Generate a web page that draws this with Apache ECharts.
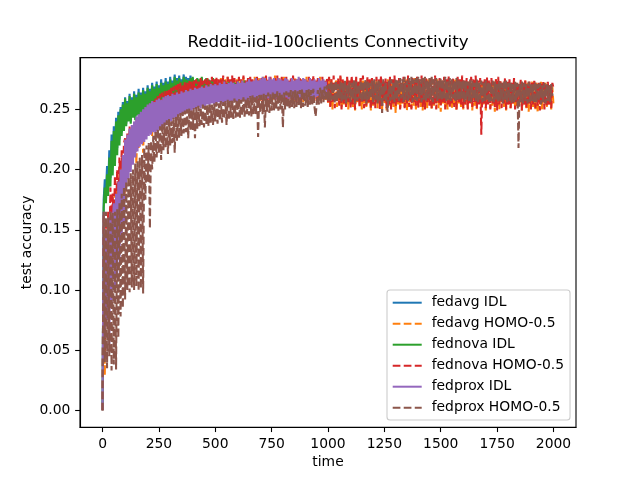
<!DOCTYPE html>
<html>
<head>
<meta charset="utf-8">
<title>Reddit-iid-100clients Connectivity</title>
<script src="https://cdn.jsdelivr.net/npm/echarts@6/dist/echarts.min.js"></script>
<style>
    html, body { margin: 0; padding: 0; background: #fff; }
    #chart { width: 640px; height: 480px; }
</style>
</head>
<body>
<div id="chart"></div>
<script>
// test accuracy, stored x1000, one value every 5 time units
var timeStep = 5;
var accScale = 1000;

var fedavgIdl = [
    0, 175, 192, 180, 203, 186, 216, 193, 229, 202, 236, 210, 243, 218, 248, 225, 252, 231, 256, 235,
    260, 238, 257, 242, 263, 240, 260, 245, 265, 243, 262, 247, 267, 246, 264, 249, 268, 248, 265, 251,
    270, 252, 267, 255, 272, 254, 269, 257, 273, 256, 270, 259, 275, 258, 272, 261, 276, 260, 273, 262,
    277, 263, 274, 265, 279, 264, 276, 266, 278, 265, 275, 267, 279, 266, 277, 268, 276, 265, 278, 267,
    276, 267, 274, 266, 275, 268, 274, 265, 276, 267, 273, 266, 275, 265, 274, 267, 273, 266, 275, 266,
    273, 266, 271, 265, 272, 267, 270, 264, 273, 266, 271, 265, 272, 264, 270, 266, 273, 265, 271, 267,
    272, 265, 270, 266, 273, 264, 271, 267, 272, 265, 270, 266, 273, 264, 271, 265, 272, 266, 270, 264,
    271, 266, 273, 265, 270, 264, 272, 266, 271, 265, 273, 264, 270, 266, 272, 265, 271, 264, 273, 266,
    270, 265, 272, 264, 271, 266, 273, 265, 270, 264, 272, 266, 271, 265, 273, 264, 270, 266, 272, 265,
    271, 264, 273, 266, 270, 265, 272, 264, 271, 266, 273, 265, 270, 264, 272, 266, 271, 265, 270, 264
];
var fedavgHomo = [
    0, 160, 29, 150, 95, 162, 85, 158, 110, 170, 125, 180, 135, 188, 150, 196, 160, 205, 172, 212,
    180, 220, 192, 226, 200, 231, 206, 235, 212, 238, 205, 241, 218, 243, 222, 246, 214, 248, 226, 250,
    229, 252, 232, 254, 228, 256, 236, 257, 238, 259, 240, 260, 242, 262, 243, 261, 245, 263, 246, 264,
    247, 265, 248, 266, 249, 265, 250, 267, 251, 268, 250, 269, 252, 268, 253, 270, 252, 269, 254, 271,
    255, 270, 254, 271, 256, 272, 255, 271, 257, 273, 256, 272, 257, 274, 256, 273, 258, 272, 257, 274,
    258, 275, 257, 273, 259, 276, 258, 274, 256, 275, 259, 277, 257, 274, 258, 276, 259, 273, 257, 275,
    259, 276, 258, 274, 260, 277, 257, 275, 259, 273, 258, 276, 260, 274, 257, 277, 259, 275, 258, 276,
    257, 274, 259, 277, 258, 275, 260, 273, 257, 276, 259, 274, 258, 278, 260, 275, 257, 276, 259, 274,
    258, 277, 256, 275, 259, 273, 257, 276, 258, 274, 256, 277, 259, 275, 257, 273, 258, 276, 256, 274,
    259, 277, 257, 275, 258, 273, 256, 276, 259, 274, 257, 275, 258, 277, 256, 274, 259, 273, 257, 275,
    255, 274, 253, 276, 250, 272, 256, 275, 252, 273, 255, 277, 251, 274, 254, 272, 256, 275, 250, 273,
    255, 276, 252, 273, 249, 275, 256, 272, 253, 276, 250, 274, 255, 271, 252, 275, 254, 273, 249, 276,
    253, 272, 256, 275, 251, 273, 254, 276, 250, 274, 255, 272, 249, 275, 253, 273, 256, 271, 252, 274,
    247, 273, 254, 276, 250, 272, 255, 274, 252, 275, 249, 273, 256, 271, 251, 274, 253, 276, 250, 272,
    255, 274, 252, 273, 249, 276, 254, 272, 251, 275, 256, 273, 250, 274, 253, 271, 255, 275, 251, 273,
    248, 274, 255, 272, 252, 275, 250, 273, 256, 271, 251, 274, 254, 276, 249, 272, 255, 273, 252, 275,
    250, 273, 254, 271, 251, 274, 256, 272, 249, 275, 253, 273, 250, 271, 255, 274, 252, 272, 254, 273,
    249, 272, 255, 274, 251, 271, 253, 273, 248, 275, 254, 272, 250, 273, 256, 271, 252, 274, 249, 272,
    254, 273, 251, 271, 255, 274, 250, 272, 253, 270, 256, 273, 249, 271, 254, 274, 251, 272, 248, 270,
    255, 273, 252, 271, 250, 272, 247, 270, 254, 273, 249, 271, 256, 272, 251, 270, 253, 271, 250, 269,
    254
];
var fednovaIdl = [
    0, 168, 185, 172, 196, 178, 210, 186, 224, 195, 232, 203, 240, 212, 245, 220, 250, 228, 254, 232,
    259, 236, 255, 240, 261, 238, 258, 243, 263, 241, 260, 245, 264, 244, 262, 247, 266, 246, 263, 249,
    268, 250, 265, 253, 270, 252, 267, 255, 271, 254, 268, 257, 272, 256, 270, 259, 273, 258, 271, 260,
    275, 261, 272, 263, 277, 262, 274, 264, 276, 263, 273, 265, 277, 264, 275, 266, 274, 263, 276, 265,
    277, 266, 274, 265, 276, 267, 275, 264, 277, 266, 273, 267, 276, 265, 275, 268, 274, 266, 276, 267,
    274, 265, 272, 267, 273, 264, 271, 266, 274, 265, 272, 267, 273, 263, 271, 266, 274, 265, 272, 266,
    273, 264, 271, 266, 272, 265, 274, 263, 271, 267, 273, 264, 272, 266, 271, 265, 273, 264, 270, 262,
    272, 265, 271, 263, 273, 266, 270, 259, 272, 265, 271, 266, 273, 264, 271, 265, 272, 263, 270, 266,
    273, 265, 271, 264, 272, 266, 270, 263, 273, 265, 271, 266, 272, 264, 270, 265, 273, 263, 271, 266,
    272, 264, 271, 265, 259, 270, 266, 273, 264, 271, 265, 272, 263, 270, 266, 272, 264, 271, 265, 270
];
var fednovaHomo = [
    0, 162, 45, 155, 100, 165, 130, 185, 140, 180, 150, 195, 165, 200, 175, 210, 185, 216, 190, 222,
    226, 200, 230, 208, 236, 214, 232, 219, 238, 222, 241, 218, 244, 225, 237, 229, 248, 231, 250, 233,
    253, 235, 255, 238, 245, 257, 240, 259, 242, 261, 244, 263, 245, 264, 247, 265, 248, 266, 249, 267,
    250, 268, 251, 269, 252, 270, 251, 271, 253, 272, 252, 271, 254, 273, 253, 272, 255, 274, 254, 273,
    256, 274, 255, 275, 257, 273, 256, 276, 255, 274, 257, 275, 258, 276, 256, 274, 257, 277, 258, 275,
    259, 277, 257, 275, 258, 276, 256, 278, 259, 274, 257, 277, 258, 275, 259, 278, 257, 276, 258, 274,
    256, 277, 259, 275, 257, 278, 258, 274, 256, 276, 259, 277, 257, 275, 258, 273, 259, 277, 256, 275,
    258, 276, 257, 274, 259, 278, 256, 275, 258, 277, 257, 273, 259, 276, 258, 278, 256, 274, 259, 277,
    257, 275, 258, 277, 256, 274, 259, 276, 257, 278, 258, 275, 256, 273, 259, 277, 257, 275, 258, 276,
    259, 274, 257, 277, 258, 275, 256, 278, 259, 274, 257, 276, 258, 273, 256, 277, 259, 275, 257, 276,
    256, 277, 252, 275, 255, 278, 251, 274, 256, 276, 253, 278, 250, 275, 255, 273, 252, 277, 256, 274,
    251, 278, 254, 275, 250, 277, 256, 273, 252, 276, 255, 278, 251, 274, 253, 277, 256, 275, 250, 276,
    254, 273, 251, 277, 255, 275, 250, 278, 253, 274, 256, 276, 251, 273, 254, 277, 250, 275, 255, 278,
    252, 274, 256, 276, 250, 273, 254, 277, 251, 275, 255, 278, 252, 274, 250, 276, 256, 273, 253, 277,
    251, 275, 255, 278, 252, 274, 250, 276, 256, 273, 253, 277, 251, 275, 254, 278, 250, 274, 255, 276,
    252, 273, 256, 277, 250, 275, 254, 278, 251, 274, 255, 276, 252, 273, 250, 277, 256, 275, 253, 278,
    251, 274, 254, 276, 250, 273, 255, 277, 252, 275, 256, 278, 251, 274, 253, 276, 229, 273, 255, 275,
    251, 277, 254, 274, 250, 276, 255, 273, 252, 275, 249, 277, 254, 274, 251, 272, 255, 276, 250, 273,
    254, 275, 251, 272, 255, 276, 250, 273, 253, 271, 256, 275, 249, 272, 254, 274, 251, 271, 255, 273,
    250, 272, 254, 275, 251, 271, 253, 273, 249, 272, 255, 274, 250, 271, 252, 273, 254, 270, 251, 272,
    268
];
var fedproxIdl = [
    0, 165, 60, 150, 75, 160, 55, 165, 90, 155, 172, 100, 180, 110, 190, 125, 200, 140, 212, 154,
    225, 185, 229, 192, 234, 198, 237, 204, 240, 210, 244, 215, 246, 219, 248, 221, 250, 223, 252, 225,
    254, 228, 255, 229, 257, 231, 256, 230, 258, 232, 259, 233, 258, 235, 260, 236, 261, 237, 262, 239,
    261, 240, 263, 242, 262, 243, 264, 244, 263, 245, 265, 246, 264, 247, 266, 248, 265, 249, 267, 249,
    266, 250, 268, 251, 267, 252, 268, 251, 269, 253, 268, 252, 270, 254, 269, 253, 271, 255, 270, 254,
    271, 255, 270, 256, 272, 254, 271, 256, 273, 255, 271, 257, 272, 256, 273, 255, 272, 257, 271, 256,
    273, 256, 272, 258, 274, 257, 272, 256, 273, 258, 275, 257, 273, 259, 274, 257, 276, 258, 274, 259,
    275, 258, 277, 259, 276, 257, 274, 259, 277, 258, 275, 260, 276, 258, 274, 259, 276, 260, 275, 258,
    274, 259, 276, 260, 275, 258, 273, 259, 276, 260, 274, 258, 275, 261, 277, 259, 274, 260, 276, 259,
    275, 260, 273, 258, 276, 261, 274, 259, 275, 260, 273, 261, 276, 259, 274, 260, 275, 261, 273, 259
];
var fedproxHomo = [
    0, 165, 40, 165, 35, 160, 45, 166, 33, 164, 38, 165, 34, 167, 60, 172, 78, 180, 85, 186,
    92, 190, 100, 194, 98, 197, 102, 200, 100, 205, 103, 207, 99, 210, 101, 212, 97, 218, 175, 220,
    190, 222, 151, 224, 200, 228, 206, 232, 210, 234, 214, 236, 208, 238, 216, 239, 218, 241, 213, 242,
    220, 240, 222, 243, 214, 244, 224, 246, 226, 247, 228, 248, 230, 249, 231, 250, 226, 251, 232, 250,
    233, 251, 226, 252, 234, 253, 236, 252, 237, 254, 235, 253, 238, 254, 236, 255, 239, 254, 237, 255,
    240, 256, 238, 255, 241, 257, 239, 256, 242, 257, 237, 258, 241, 257, 243, 258, 242, 259, 243, 258,
    244, 259, 243, 258, 245, 260, 244, 259, 246, 260, 245, 261, 244, 262, 246, 260, 245, 261, 227, 262,
    247, 262, 246, 263, 235, 262, 248, 264, 247, 263, 249, 264, 248, 263, 250, 265, 249, 264, 250, 263,
    235, 264, 250, 265, 251, 264, 250, 266, 252, 265, 251, 266, 252, 265, 253, 266, 251, 267, 252, 265,
    253, 266, 252, 267, 254, 266, 253, 267, 252, 244, 255, 266, 254, 268, 255, 267, 256, 269, 257, 270,
    257, 271, 256, 273, 258, 272, 255, 274, 257, 271, 259, 273, 256, 272, 258, 274, 255, 271, 259, 273,
    256, 272, 258, 274, 255, 273, 257, 271, 259, 274, 256, 272, 258, 275, 255, 273, 257, 272, 259, 274,
    256, 275, 258, 273, 255, 274, 257, 272, 247, 275, 258, 273, 256, 248, 274, 257, 275, 258, 273, 256,
    276, 258, 274, 257, 276, 259, 275, 256, 277, 258, 274, 257, 276, 259, 277, 256, 275, 258, 276, 257,
    277, 259, 275, 256, 276, 258, 277, 257, 274, 259, 276, 258, 277, 256, 275, 259, 276, 257, 274, 258,
    276, 257, 275, 259, 277, 256, 274, 258, 276, 257, 275, 259, 274, 256, 276, 258, 275, 257, 273, 259,
    275, 256, 274, 258, 273, 257, 275, 256, 274, 258, 272, 257, 275, 256, 273, 258, 274, 256, 272, 257,
    274, 258, 273, 255, 272, 257, 274, 256, 273, 258, 271, 256, 274, 257, 272, 255, 273, 257, 274, 256,
    272, 257, 273, 255, 271, 256, 273, 257, 272, 218, 271, 256, 273, 255, 272, 257, 271, 255, 273, 256,
    272, 257, 271, 255, 273, 256, 271, 257, 272, 254, 270, 256, 272, 255, 271, 257, 270, 256, 271, 262,
    262
];

var xTicks = [0, 250, 500, 750, 1000, 1250, 1500, 1750, 2000];
var yTicks = [0, 0.05, 0.1, 0.15, 0.2, 0.25];

var seriesDefs = [
    {name: 'fedavg IDL', values: fedavgIdl, color: '#1f77b4', dashed: false},
    {name: 'fedavg HOMO-0.5', values: fedavgHomo, color: '#ff7f0e', dashed: true},
    {name: 'fednova IDL', values: fednovaIdl, color: '#2ca02c', dashed: false},
    {name: 'fednova HOMO-0.5', values: fednovaHomo, color: '#d62728', dashed: true},
    {name: 'fedprox IDL', values: fedproxIdl, color: '#9467bd', dashed: false},
    {name: 'fedprox HOMO-0.5', values: fedproxHomo, color: '#8c564b', dashed: true}
];

function toPoints(values) {
    return values.map(function (v, i) {
        return [i * timeStep, v / accScale];
    });
}

var font = 'DejaVu Sans';
var axisBlack = {color: '#000', width: 1.1};

var option = {
    animation: false,
    backgroundColor: '#fff',
    grid: {
        left: 80, right: 64, top: 57.6, bottom: 52.8,
        show: true, borderColor: '#000', borderWidth: 1.1,
        backgroundColor: 'transparent'
    },
    graphic: [{
        type: 'text',
        x: 328, y: 43,
        style: {
            text: 'Reddit-iid-100clients Connectivity',
            font: '16.67px "DejaVu Sans"',
            fill: '#000',
            textAlign: 'center',
            textVerticalAlign: 'middle'
        }
    }],
    legend: {
        orient: 'vertical',
        left: 387, top: 290,
        itemWidth: 29, itemHeight: 14, itemGap: 7,
        padding: [5.7, 6, 5.3, 4.7],
        backgroundColor: 'rgba(255,255,255,0.8)',
        borderColor: '#cccccc', borderWidth: 1.1, borderRadius: 3,
        selectedMode: false,
        // line series get a circle marker in the legend; hide it, keep the line
        itemStyle: {opacity: 0, color: 'rgba(0,0,0,0)', borderWidth: 0},
        textStyle: {fontFamily: font, fontSize: 13.89, color: '#000', padding: [0, 0, 0, 5]},
        data: seriesDefs.map(function (s) { return s.name; })
    },
    xAxis: {
        type: 'value',
        min: -100, max: 2100,
        name: 'time', nameLocation: 'middle', nameGap: 28,
        nameMoveOverlap: false,
        nameTextStyle: {fontFamily: font, fontSize: 13.89, color: '#000'},
        axisLine: {show: true, onZero: false, lineStyle: axisBlack},
        axisTick: {show: true, length: 4.86, lineStyle: axisBlack, customValues: xTicks},
        axisLabel: {
            fontFamily: font, fontSize: 13.89, color: '#000', margin: 9.7,
            customValues: xTicks,
            formatter: function (v) { return String(v); }
        },
        splitLine: {show: false}
    },
    yAxis: {
        type: 'value',
        min: -0.014, max: 0.293,
        name: 'test accuracy', nameLocation: 'middle', nameGap: 46,
        nameMoveOverlap: false,
        nameTextStyle: {fontFamily: font, fontSize: 13.89, color: '#000'},
        axisLine: {show: true, onZero: false, lineStyle: axisBlack},
        axisTick: {show: true, length: 4.86, lineStyle: axisBlack, customValues: yTicks},
        axisLabel: {
            fontFamily: font, fontSize: 13.89, color: '#000', margin: 9.7,
            customValues: yTicks,
            formatter: function (v) { return v.toFixed(2); }
        },
        splitLine: {show: false}
    },
    series: seriesDefs.map(function (s) {
        return {
            name: s.name,
            type: 'line',
            data: toPoints(s.values),
            symbol: 'none',
            showSymbol: false,
            silent: true,
            itemStyle: {color: s.color},
            lineStyle: {
                color: s.color,
                width: 2.08,
                type: s.dashed ? [7.7, 3.33] : 'solid'
            },
            emphasis: {disabled: true}
        };
    })
};

var chart = echarts.init(document.getElementById('chart'));
chart.setOption(option);
</script>
</body>
</html>
